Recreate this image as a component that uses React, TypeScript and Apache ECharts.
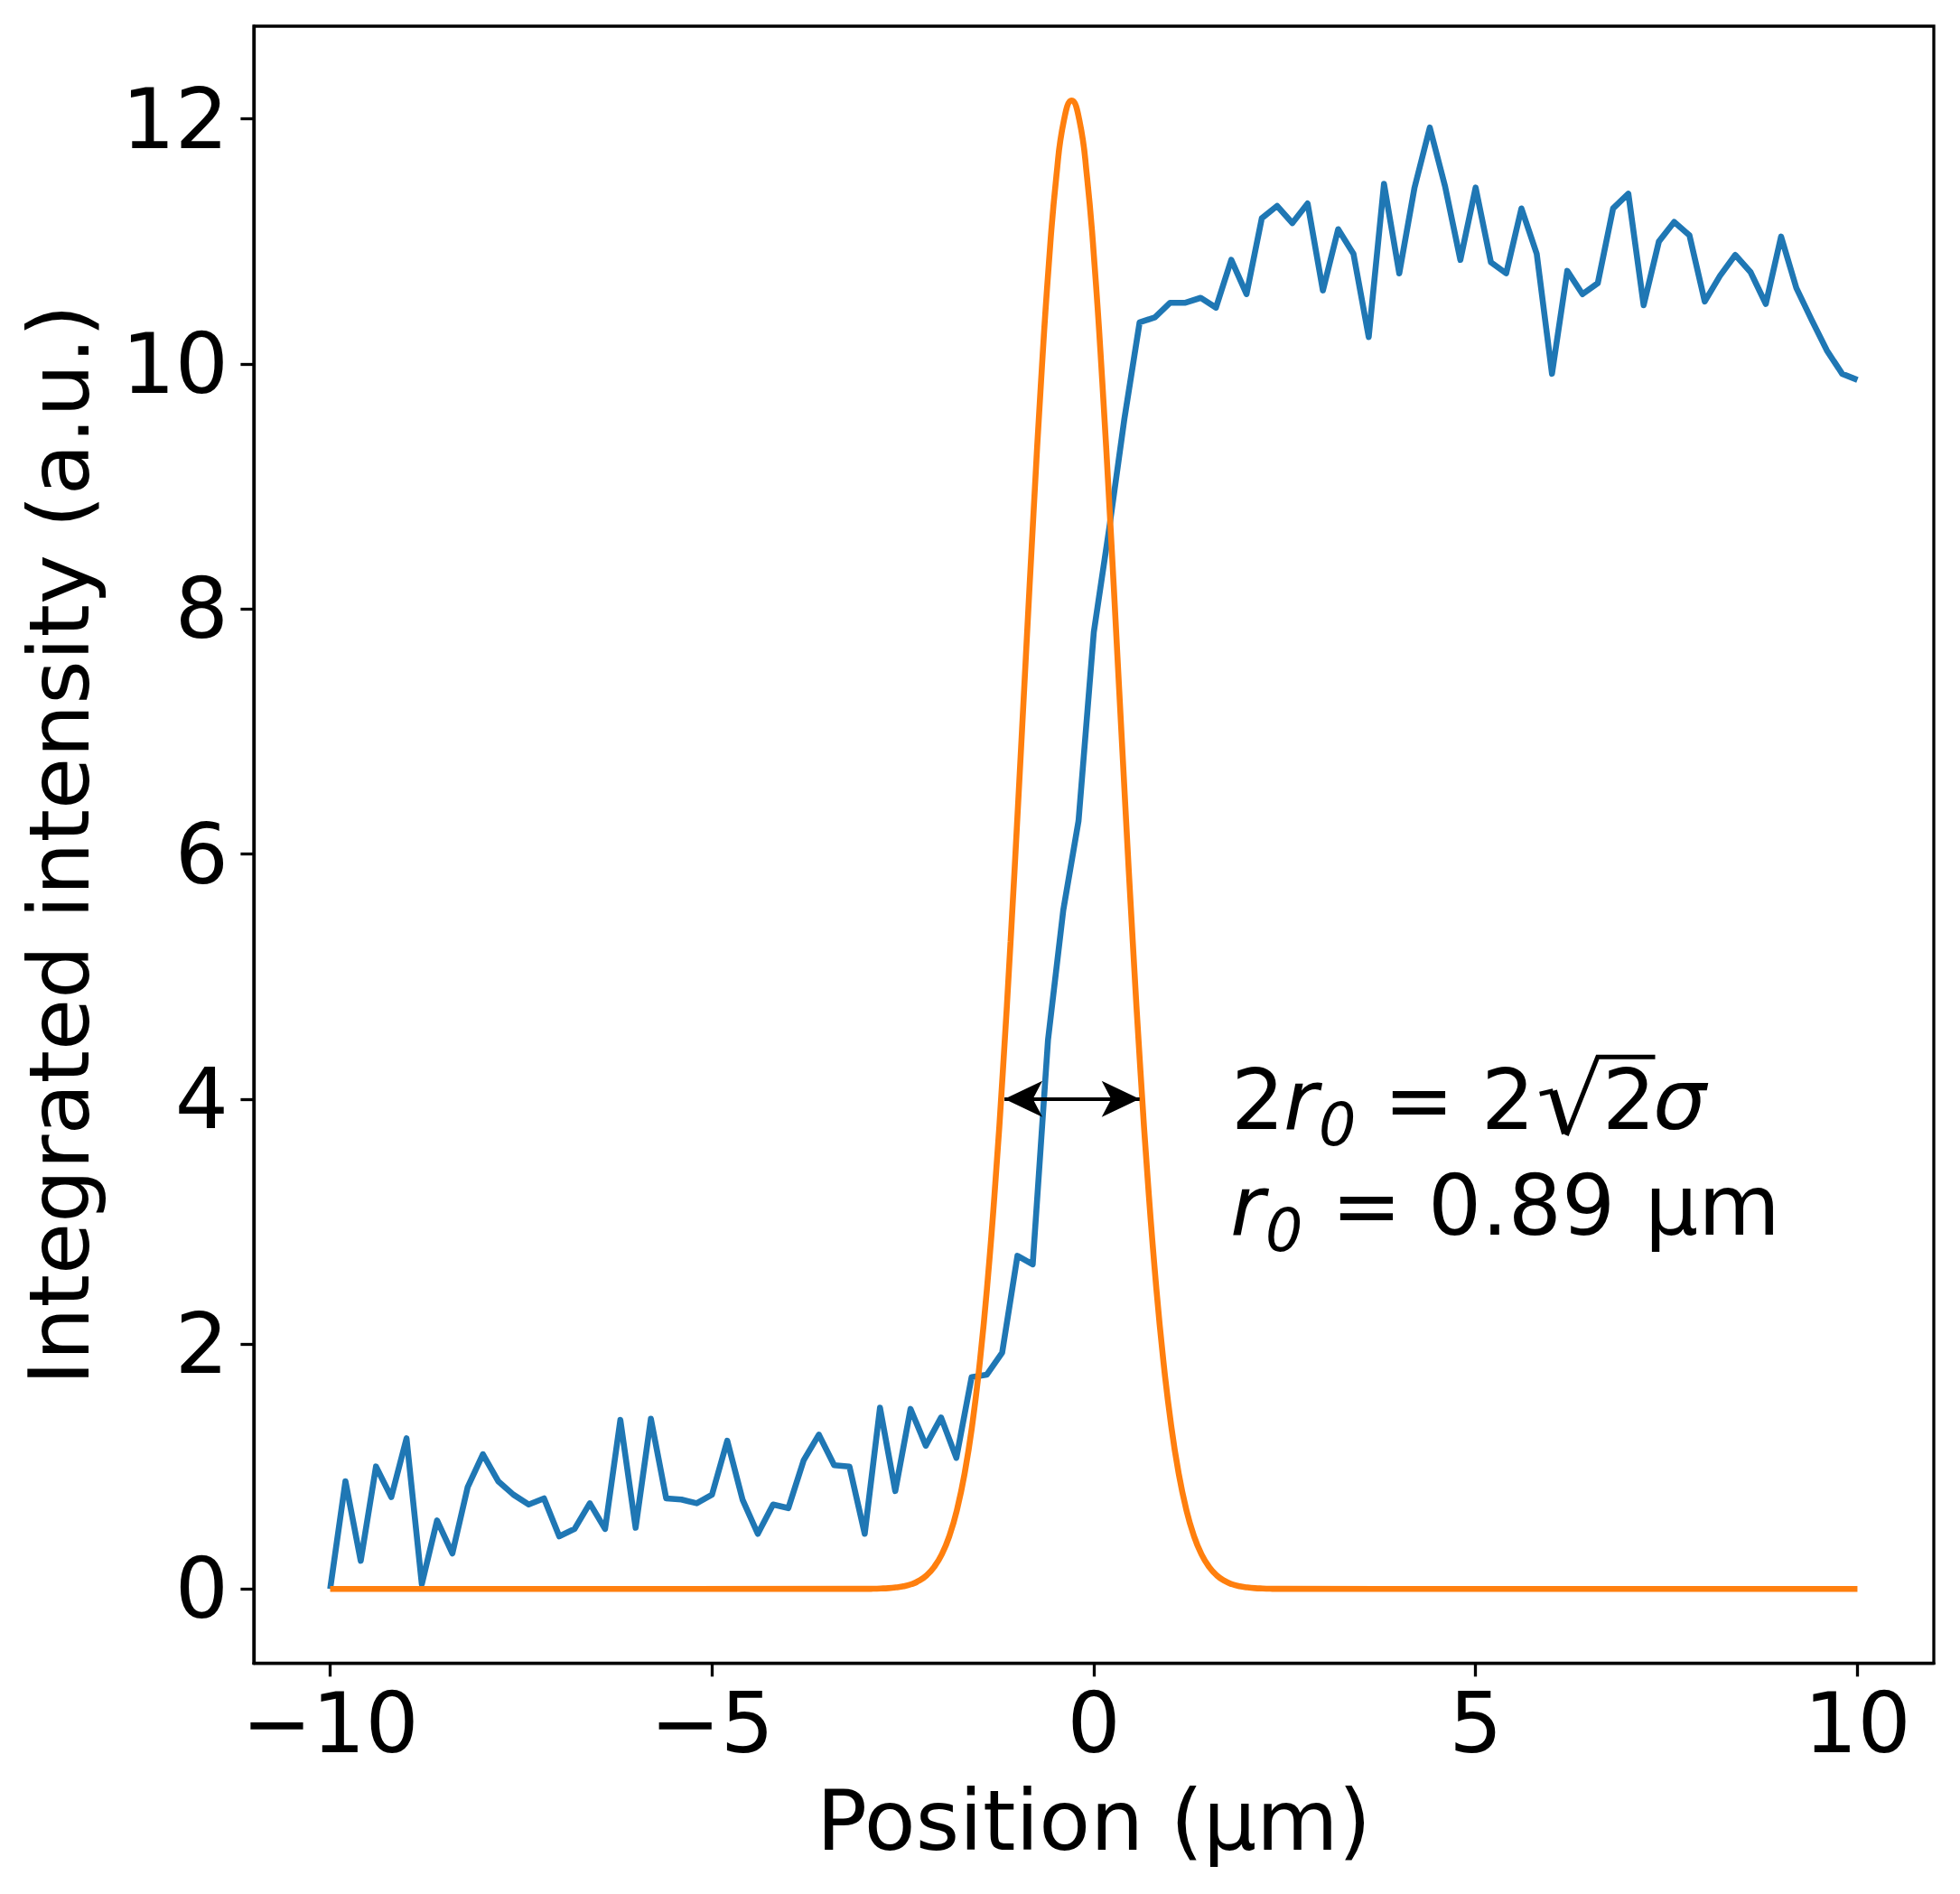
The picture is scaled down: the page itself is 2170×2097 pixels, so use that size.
import React, { useEffect, useRef } from "react";
import * as echarts from "echarts";

// Measured profile: position (µm) and integrated intensity (a.u.)
const positions = [
  -10, -9.8, -9.6, -9.4, -9.2, -9, -8.8, -8.6, -8.4, -8.2,
  -8, -7.8, -7.6, -7.4, -7.2, -7, -6.8, -6.6, -6.4, -6.2,
  -6, -5.8, -5.6, -5.4, -5.2, -5, -4.8, -4.6, -4.4, -4.2,
  -4, -3.8, -3.6, -3.4, -3.2, -3, -2.8, -2.6, -2.4, -2.2,
  -2, -1.8, -1.6, -1.4, -1.2, -1, -0.8, -0.6, -0.4, -0.2,
  0, 0.2, 0.4, 0.6, 0.8, 1, 1.2, 1.4, 1.6, 1.8,
  2, 2.2, 2.4, 2.6, 2.8, 3, 3.2, 3.4, 3.6, 3.8,
  4, 4.2, 4.4, 4.6, 4.8, 5, 5.2, 5.4, 5.6, 5.8,
  6, 6.2, 6.4, 6.6, 6.8, 7, 7.2, 7.4, 7.6, 7.8,
  8, 8.2, 8.4, 8.6, 8.8, 9, 9.2, 9.4, 9.6, 9.8,
  10,
];
const intensity = [
  0.0, 0.88, 0.23, 1.0, 0.75, 1.23, 0.04, 0.56, 0.29, 0.83,
  1.1, 0.88, 0.77, 0.69, 0.74, 0.43, 0.49, 0.7, 0.49, 1.38,
  0.5, 1.39, 0.74, 0.73, 0.7, 0.77, 1.21, 0.73, 0.45, 0.69,
  0.66, 1.05, 1.26, 1.01, 1.0, 0.45, 1.48, 0.8, 1.47, 1.17,
  1.4, 1.07, 1.73, 1.75, 1.93, 2.72, 2.65, 4.48, 5.54, 6.27,
  7.81, 8.65, 9.55, 10.34, 10.38, 10.5, 10.5, 10.54, 10.46, 10.85,
  10.57, 11.19, 11.29, 11.15, 11.31, 10.6, 11.1, 10.9, 10.22, 11.47,
  10.74, 11.44, 11.93, 11.45, 10.85, 11.44, 10.83, 10.74, 11.27, 10.9,
  9.92, 10.76, 10.57, 10.66, 11.27, 11.39, 10.48, 11.0, 11.16, 11.05,
  10.51, 10.72, 10.89, 10.75, 10.49, 11.04, 10.62, 10.36, 10.11, 9.92,
  9.87,
];

// Gaussian fit curve
const fitX = [
  -10, -2.99, -2.89, -2.79, -2.69, -2.59, -2.49, -2.39, -2.29, -2.19,
  -2.09, -1.99, -1.89, -1.79, -1.69, -1.59, -1.49, -1.39, -1.29, -1.19,
  -1.09, -0.99, -0.89, -0.79, -0.69, -0.59, -0.49, -0.39, -0.29, -0.19,
  -0.09, 0.01, 0.11, 0.21, 0.31, 0.41, 0.51, 0.61, 0.71, 0.81,
  0.91, 1.01, 1.11, 1.21, 1.31, 1.41, 1.51, 1.61, 1.71, 1.81,
  1.91, 2.01, 2.11, 2.21, 2.31, 2.41, 10,
];
const fitY = [
  0, 0.001, 0.002, 0.004, 0.007, 0.013, 0.022, 0.039, 0.067, 0.111,
  0.18, 0.283, 0.435, 0.651, 0.949, 1.349, 1.867, 2.518, 3.309, 4.236,
  5.285, 6.423, 7.607, 8.777, 9.867, 10.808, 11.534, 11.993, 12.15, 11.993,
  11.534, 10.808, 9.867, 8.777, 7.607, 6.423, 5.285, 4.236, 3.309, 2.518,
  1.867, 1.349, 0.949, 0.651, 0.435, 0.283, 0.18, 0.111, 0.067, 0.039,
  0.022, 0.013, 0.007, 0.004, 0.002, 0.001, 0,
];

const xTicks = [-10, -5, 0, 5, 10];
const yTicks = [0, 2, 4, 6, 8, 10, 12];
const xRange = [-11, 11];
const yRange = [-0.6075, 12.7575];

// width arrow (2 r0) at intensity 4
const arrowX = [-1.17, 0.6];
const arrowY = 4;

const FONT = "DejaVu Sans";
const F = 93;
const FS = 65;

function piece(text: string, x: number, baseline: number, size: number, italic: boolean) {
  return {
    type: "text",
    x,
    y: baseline - 0.346 * size,
    silent: true,
    style: {
      text,
      fontSize: size,
      fontFamily: FONT,
      fontStyle: italic ? "italic" : "normal",
      fill: "#000",
      align: "left",
      verticalAlign: "middle",
    },
  };
}

export default function App() {
  const ref = useRef<HTMLDivElement>(null);
  useEffect(() => {
    if (!ref.current) return;
    const chart = echarts.init(ref.current, null, { renderer: "svg" });
    const minus = (v: number) => String(v).replace("-", "\u2212");
    const L1 = 1250;
    const L2 = 1367;
    const option: any = {
      animation: false,
      backgroundColor: "#ffffff",
      textStyle: { fontFamily: FONT },
      grid: {
        left: 281,
        top: 29,
        width: 1860,
        height: 1812.7,
        show: true,
        borderColor: "#000",
        borderWidth: 3.3,
        backgroundColor: "transparent",
      },
      xAxis: {
        type: "value",
        min: xRange[0],
        max: xRange[1],
        splitLine: { show: false },
        axisLine: { show: true, onZero: false, lineStyle: { color: "#000", width: 3.3 } },
        axisTick: {
          show: true,
          inside: false,
          length: 14.6,
          customValues: xTicks,
          lineStyle: { color: "#000", width: 3.3 },
        },
        axisLabel: {
          customValues: xTicks,
          margin: 20,
          fontSize: F,
          color: "#000",
          fontFamily: FONT,
          formatter: (v: number) => minus(v),
        },
        name: "Position (µm)",
        nameLocation: "middle",
        nameGap: 128,
        nameTextStyle: { fontSize: F, color: "#000", fontFamily: FONT },
      },
      yAxis: {
        type: "value",
        min: yRange[0],
        max: yRange[1],
        splitLine: { show: false },
        axisLine: { show: true, onZero: false, lineStyle: { color: "#000", width: 3.3 } },
        axisTick: {
          show: true,
          inside: false,
          length: 14.6,
          customValues: yTicks,
          lineStyle: { color: "#000", width: 3.3 },
        },
        axisLabel: {
          customValues: yTicks,
          margin: 28,
          fontSize: F,
          color: "#000",
          fontFamily: FONT,
          formatter: (v: number) => minus(v),
        },
        name: "Integrated intensity (a.u.)",
        nameLocation: "middle",
        nameGap: 169,
        nameTextStyle: { fontSize: F, color: "#000", fontFamily: FONT },
      },
      series: [
        {
          type: "line",
          name: "profile",
          data: positions.map((x, i) => [x, intensity[i]]),
          showSymbol: false,
          symbol: "none",
          lineStyle: { color: "#1f77b4", width: 6.6, join: "round" },
          itemStyle: { color: "#1f77b4" },
          z: 2,
        },
        {
          type: "line",
          name: "fit",
          data: fitX.map((x, i) => [x, fitY[i]]),
          showSymbol: false,
          symbol: "none",
          smooth: 0.5,
          lineStyle: { color: "#ff7f0e", width: 6.6 },
          itemStyle: { color: "#ff7f0e" },
          z: 3,
          markLine: {
            silent: true,
            animation: false,
            symbol: ["arrow", "arrow"],
            symbolSize: [30, 42],
            label: { show: false },
            lineStyle: { color: "#000", width: 4, type: "solid" },
            itemStyle: { color: "#000" },
            emphasis: { disabled: true },
            data: [[{ coord: [arrowX[0], arrowY] }, { coord: [arrowX[1], arrowY] }]],
          },
        },
      ],
      graphic: [
        piece("2", 1363, L1, F, false),
        piece("r", 1421, L1, F, true),
        piece("0", 1460, L1 + 18, FS, true),
        piece("=", 1532, L1, F, false),
        piece("2", 1640, L1, F, false),
        {
          type: "polyline",
          silent: true,
          shape: { points: [[1704.7, 1211.2], [1719.5, 1207.8]] },
          style: { stroke: "#000", lineWidth: 5, fill: null },
        },
        {
          type: "polyline",
          silent: true,
          shape: { points: [[1719.5, 1207.8], [1733.5, 1255]] },
          style: { stroke: "#000", lineWidth: 9, fill: null },
        },
        {
          type: "polyline",
          silent: true,
          shape: { points: [[1734.3, 1257], [1768.8, 1170.3], [1832.5, 1170.3]] },
          style: { stroke: "#000", lineWidth: 5, fill: null, lineJoin: "miter" },
        },
        piece("2", 1774, L1, F, false),
        piece("σ", 1830, L1, F, true),
        piece("r", 1362, L2, F, true),
        piece("0", 1401, L2 + 18, FS, true),
        piece("=", 1474, L2, F, false),
        piece("0.89", 1581, L2, F, false),
        piece("µm", 1821, L2, F, false),
      ],
    };
    chart.setOption(option);
    return () => chart.dispose();
  }, []);
  return (
    <div
      ref={ref}
      style={{ position: "absolute", left: 0, top: 0, width: 2170, height: 2097, background: "#fff" }}
    />
  );
}
